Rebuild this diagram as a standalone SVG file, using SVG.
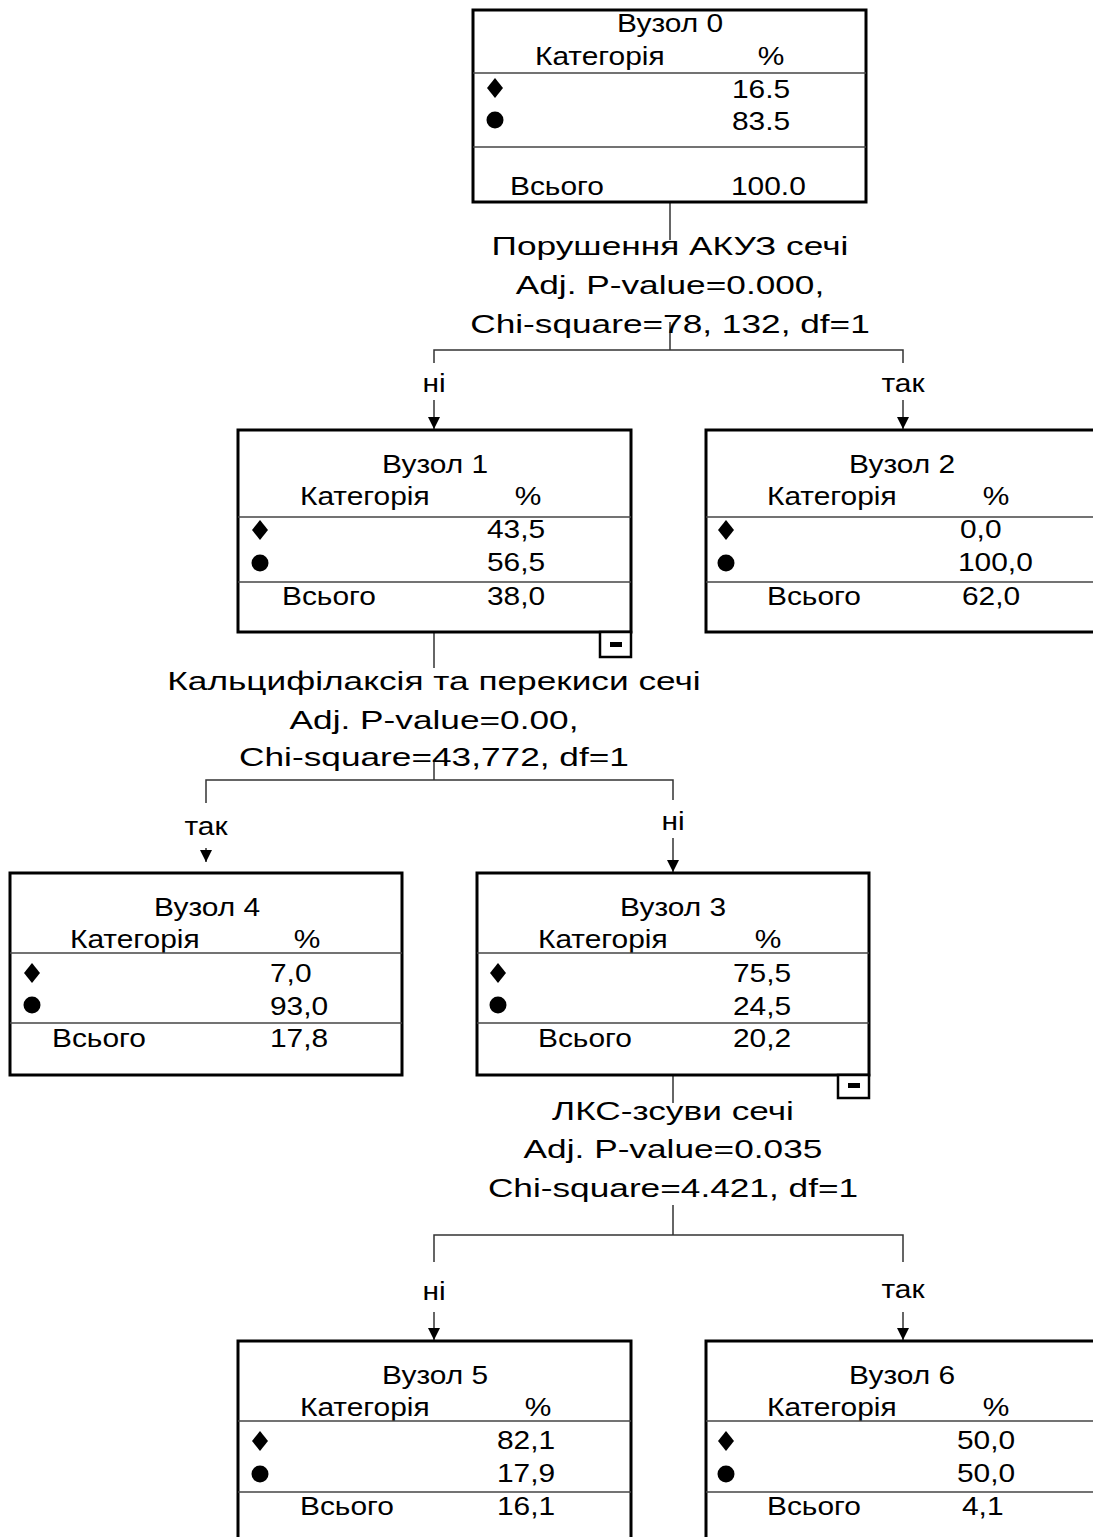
<svg xmlns="http://www.w3.org/2000/svg" width="1093" height="1537" viewBox="0 0 1093 1537">
<style>
text{font-family:"Liberation Sans",Arial,sans-serif;fill:#000;transform-box:fill-box}
.t{font-size:26px;transform-origin:left center;transform:scaleX(1.15)}
.c{font-size:26.5px;text-anchor:middle;transform-origin:center;transform:scaleX(1.33)}
.t.m{text-anchor:middle;transform-origin:center}
.box{fill:#fff;stroke:#000;stroke-width:3}
.sep{stroke:#444;stroke-width:1.5}
.ln{stroke:#333;stroke-width:1.5;fill:none}
.mk{fill:#000}
</style>
<defs>
<marker id="ah" markerUnits="userSpaceOnUse" markerWidth="12" markerHeight="14" viewBox="0 0 12 14" refX="12" refY="7" orient="auto">
<path d="M0,1 L12,7 L0,13 Z" fill="#000"/>
</marker>
<path id="dia" d="M0,-10 L8,0 L0,10 L-8,0 Z"/>
</defs>
<rect width="1093" height="1537" fill="#fff"/>

<g id="connectors">
<line class="ln" x1="670" y1="202" x2="670" y2="240"/>
<line class="ln" x1="670" y1="322" x2="670" y2="350"/>
<polyline class="ln" points="434,363 434,350 903,350 903,363"/>
<line class="ln" x1="434" y1="400" x2="434" y2="429" marker-end="url(#ah)"/>
<line class="ln" x1="903" y1="400" x2="903" y2="429" marker-end="url(#ah)"/>
<text class="t m" x="434" y="392">ні</text>
<text class="t m" x="903" y="392">так</text>
<text class="c" x="670" y="255">Порушення АКУЗ сечі</text>
<text class="c" x="670" y="294">Adj. P-value=0.000,</text>
<text class="c" x="670" y="333">Chi-square=78, 132, df=1</text>

<line class="ln" x1="434" y1="632" x2="434" y2="668"/>
<line class="ln" x1="434" y1="760" x2="434" y2="780"/>
<polyline class="ln" points="206,803 206,780 673,780 673,800"/>
<line class="ln" x1="206" y1="848" x2="206" y2="862" marker-end="url(#ah)"/>
<line class="ln" x1="673" y1="838" x2="673" y2="872" marker-end="url(#ah)"/>
<text class="t m" x="206" y="835">так</text>
<text class="t m" x="673" y="830">ні</text>
<text class="c" x="434" y="690">Кальцифілаксія та перекиси сечі</text>
<text class="c" x="434" y="729">Adj. P-value=0.00,</text>
<text class="c" x="434" y="766">Chi-square=43,772, df=1</text>

<line class="ln" x1="673" y1="1075" x2="673" y2="1103"/>
<line class="ln" x1="673" y1="1205" x2="673" y2="1235"/>
<polyline class="ln" points="434,1262 434,1235 903,1235 903,1262"/>
<line class="ln" x1="434" y1="1312" x2="434" y2="1340" marker-end="url(#ah)"/>
<line class="ln" x1="903" y1="1312" x2="903" y2="1340" marker-end="url(#ah)"/>
<text class="t m" x="434" y="1300">ні</text>
<text class="t m" x="903" y="1298">так</text>
<text class="c" x="673" y="1120">ЛКС-зсуви сечі</text>
<text class="c" x="673" y="1158">Adj. P-value=0.035</text>
<text class="c" x="673" y="1197">Chi-square=4.421, df=1</text>
</g>

<g id="node0">
<rect class="box" x="473" y="10" width="393" height="192"/>
<text class="t m" x="670" y="32">Вузол 0</text>
<text class="t" x="535" y="65">Категорія</text>
<text class="t m" x="771" y="65">%</text>
<line class="sep" x1="473" y1="73" x2="866" y2="73"/>
<use href="#dia" x="495" y="88" class="mk"/>
<text class="t" x="732" y="98">16.5</text>
<circle cx="495" cy="120" r="8.5" class="mk"/>
<text class="t" x="732" y="130">83.5</text>
<line class="sep" x1="473" y1="147" x2="866" y2="147"/>
<text class="t" x="510" y="195">Всього</text>
<text class="t" x="731" y="195">100.0</text>
</g>

<g id="node1">
<rect class="box" x="238" y="430" width="393" height="202"/>
<text class="t m" x="435" y="473">Вузол 1</text>
<text class="t" x="300" y="505">Категорія</text>
<text class="t m" x="528" y="505">%</text>
<line class="sep" x1="238" y1="517" x2="631" y2="517"/>
<use href="#dia" x="260" y="530" class="mk"/>
<text class="t" x="487" y="538">43,5</text>
<circle cx="260" cy="563" r="8.5" class="mk"/>
<text class="t" x="487" y="571">56,5</text>
<line class="sep" x1="238" y1="582" x2="631" y2="582"/>
<text class="t" x="282" y="605">Всього</text>
<text class="t" x="487" y="605">38,0</text>
<rect x="600" y="632" width="31" height="25" fill="#fff" stroke="#000" stroke-width="2.5"/>
<rect x="610" y="642" width="12" height="5" fill="#000"/>
</g>

<g id="node2">
<rect class="box" x="706" y="430" width="400" height="202"/>
<text class="t m" x="902" y="473">Вузол 2</text>
<text class="t" x="767" y="505">Категорія</text>
<text class="t m" x="996" y="505">%</text>
<line class="sep" x1="706" y1="517" x2="1093" y2="517"/>
<use href="#dia" x="726" y="530" class="mk"/>
<text class="t" x="960" y="538">0,0</text>
<circle cx="726" cy="563" r="8.5" class="mk"/>
<text class="t" x="958" y="571">100,0</text>
<line class="sep" x1="706" y1="582" x2="1093" y2="582"/>
<text class="t" x="767" y="605">Всього</text>
<text class="t" x="962" y="605">62,0</text>
</g>

<g id="node4">
<rect class="box" x="10" y="873" width="392" height="202"/>
<text class="t m" x="207" y="916">Вузол 4</text>
<text class="t" x="70" y="948">Категорія</text>
<text class="t m" x="307" y="948">%</text>
<line class="sep" x1="10" y1="953" x2="402" y2="953"/>
<use href="#dia" x="32" y="973" class="mk"/>
<text class="t" x="270" y="982">7,0</text>
<circle cx="32" cy="1005" r="8.5" class="mk"/>
<text class="t" x="270" y="1015">93,0</text>
<line class="sep" x1="10" y1="1023" x2="402" y2="1023"/>
<text class="t" x="52" y="1047">Всього</text>
<text class="t" x="270" y="1047">17,8</text>
</g>

<g id="node3">
<rect class="box" x="477" y="873" width="392" height="202"/>
<text class="t m" x="673" y="916">Вузол 3</text>
<text class="t" x="538" y="948">Категорія</text>
<text class="t m" x="768" y="948">%</text>
<line class="sep" x1="477" y1="953" x2="869" y2="953"/>
<use href="#dia" x="498" y="973" class="mk"/>
<text class="t" x="733" y="982">75,5</text>
<circle cx="498" cy="1005" r="8.5" class="mk"/>
<text class="t" x="733" y="1015">24,5</text>
<line class="sep" x1="477" y1="1023" x2="869" y2="1023"/>
<text class="t" x="538" y="1047">Всього</text>
<text class="t" x="733" y="1047">20,2</text>
<rect x="838" y="1075" width="31" height="23" fill="#fff" stroke="#000" stroke-width="2.5"/>
<rect x="848" y="1083" width="12" height="5" fill="#000"/>
</g>

<g id="node5">
<rect class="box" x="238" y="1341" width="393" height="210"/>
<text class="t m" x="435" y="1384">Вузол 5</text>
<text class="t" x="300" y="1416">Категорія</text>
<text class="t m" x="538" y="1416">%</text>
<line class="sep" x1="238" y1="1421" x2="631" y2="1421"/>
<use href="#dia" x="260" y="1441" class="mk"/>
<text class="t" x="497" y="1449">82,1</text>
<circle cx="260" cy="1474" r="8.5" class="mk"/>
<text class="t" x="497" y="1482">17,9</text>
<line class="sep" x1="238" y1="1492" x2="631" y2="1492"/>
<text class="t" x="300" y="1515">Всього</text>
<text class="t" x="497" y="1515">16,1</text>
</g>

<g id="node6">
<rect class="box" x="706" y="1341" width="400" height="210"/>
<text class="t m" x="902" y="1384">Вузол 6</text>
<text class="t" x="767" y="1416">Категорія</text>
<text class="t m" x="996" y="1416">%</text>
<line class="sep" x1="706" y1="1421" x2="1093" y2="1421"/>
<use href="#dia" x="726" y="1441" class="mk"/>
<text class="t" x="957" y="1449">50,0</text>
<circle cx="726" cy="1474" r="8.5" class="mk"/>
<text class="t" x="957" y="1482">50,0</text>
<line class="sep" x1="706" y1="1492" x2="1093" y2="1492"/>
<text class="t" x="767" y="1515">Всього</text>
<text class="t" x="962" y="1515">4,1</text>
</g>
</svg>
